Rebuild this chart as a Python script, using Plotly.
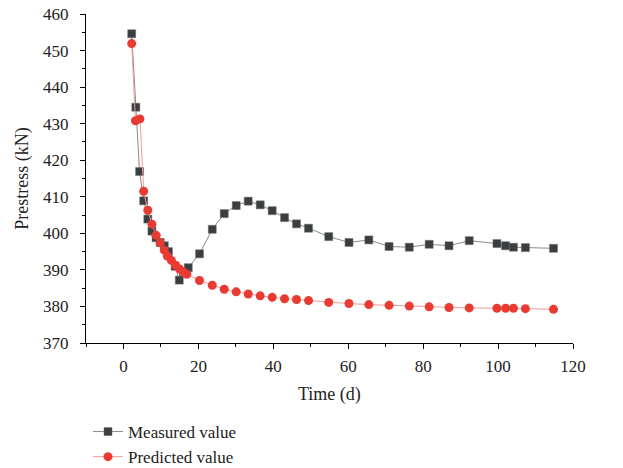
import plotly.graph_objects as go

# Measured values
meas_t = [2.2, 3.3, 4.3, 5.4, 6.5, 7.6, 8.7, 9.8, 10.9, 12.0, 13.8, 14.9, 16.0, 17.3,
          20.3, 23.7, 26.9, 30.1, 33.3, 36.5, 39.7, 43.0, 46.2, 49.4, 54.8, 60.2,
          65.5, 70.9, 76.3, 81.6, 86.9, 92.3, 99.7, 102.0, 104.1, 107.3, 114.8]
meas_p = [454.6, 434.5, 416.9, 408.9, 403.9, 400.6, 398.8, 397.5, 396.6, 395.0, 391.0,
          387.2, 389.5, 390.6, 394.4, 401.1, 405.4, 407.6, 408.8, 407.8, 406.2, 404.3,
          402.6, 401.4, 399.1, 397.5, 398.2, 396.4, 396.2, 397.0, 396.6, 398.0, 397.2,
          396.6, 396.2, 396.1, 395.9]

# Predicted values
pred_t = [2.2, 3.2, 4.4, 5.4, 6.5, 7.6, 8.7, 9.8, 10.9, 11.7, 12.8, 13.9, 14.9, 15.9,
          16.9, 20.3, 23.7, 26.9, 30.1, 33.3, 36.5, 39.7, 43.0, 46.2, 49.4, 54.8, 60.2,
          65.5, 70.9, 76.3, 81.6, 86.9, 92.3, 99.7, 102.0, 104.1, 107.3, 114.8]
pred_p = [451.9, 430.8, 431.3, 411.5, 406.3, 402.5, 399.5, 397.4, 395.4, 393.8, 392.6,
          391.3, 390.3, 389.5, 388.8, 387.1, 385.8, 384.7, 384.0, 383.4, 382.9, 382.5,
          382.1, 381.9, 381.6, 381.1, 380.8, 380.5, 380.3, 380.1, 379.9, 379.7, 379.6,
          379.5, 379.5, 379.5, 379.4, 379.2]

x_title = "Time (d)"
y_title = "Prestress (kN)"

FONT = "Liberation Serif"
TXT = "#222"

fig = go.Figure()
fig.add_trace(go.Scatter(
    x=meas_t, y=meas_p, mode="lines+markers", name="Measured value",
    legendgroup="m",
    line=dict(color="#8a8a8a", width=1),
    marker=dict(symbol="square", size=8, color="#3b3e41",
                line=dict(color="#6a6a6a", width=0.5))))
fig.add_trace(go.Scatter(
    x=pred_t, y=pred_p, mode="lines+markers", name="Predicted value",
    legendgroup="p",
    line=dict(color="#f39a94", width=1),
    marker=dict(symbol="circle", size=9, color="#ea3b32")))

axis_common = dict(
    showline=True, linecolor="black", linewidth=1, mirror=False, automargin=False,
    showgrid=False, zeroline=False, ticks="outside", ticklen=5, tickwidth=1,
    tickcolor="black", tickfont=dict(family=FONT, size=17, color=TXT),
)

fig.update_xaxes(range=[-10, 120], dtick=20, tick0=0, ticklabelstandoff=3,
                 minor=dict(ticks="outside", ticklen=3, dtick=10, tickcolor="black"),
                 **axis_common)
fig.update_yaxes(range=[370, 460], dtick=10, ticklabelstandoff=8,
                 minor=dict(ticks="outside", ticklen=3, dtick=5, tickcolor="black"),
                 **axis_common)

fig.add_annotation(text=x_title, xref="paper", yref="paper", x=0.5, y=-0.157,
                   xanchor="center", yanchor="middle", showarrow=False,
                   font=dict(family=FONT, size=18, color=TXT))
fig.add_annotation(text=y_title, xref="paper", yref="paper", x=-0.131, y=0.5,
                   xanchor="center", yanchor="middle", showarrow=False, textangle=-90,
                   font=dict(family=FONT, size=18, color=TXT))

fig.update_layout(
    width=623, height=468,
    font=dict(family=FONT, color=TXT),
    margin=dict(l=86, r=50, t=14, b=125, autoexpand=False),
    paper_bgcolor="white", plot_bgcolor="white",
    legend=dict(xref="container", yref="container",
                x=88 / 623, y=1 - 414 / 468, xanchor="left", yanchor="top",
                font=dict(family=FONT, size=17, color=TXT),
                tracegroupgap=0, traceorder="normal",
                bgcolor="rgba(0,0,0,0)"),
)

fig.write_html("out.html", config={"displayModeBar": False},
               post_script="document.body.style.margin='0px';document.body.style.padding='0px';")
